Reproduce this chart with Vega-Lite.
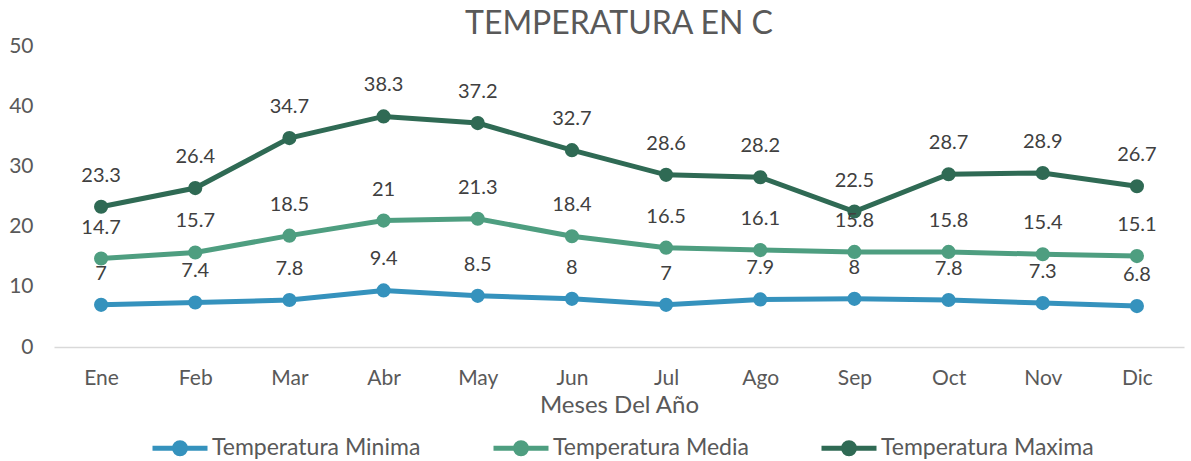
{
  "$schema": "https://vega.github.io/schema/vega-lite/v6.json",
  "autosize": {"type": "none"},
  "width": 1130,
  "height": 301,
  "padding": {"left": 54, "top": 46, "right": 7, "bottom": 114},
  "background": "white",
  "title": {"text": "TEMPERATURA EN C", "fontSize": 32, "font": "Lato", "fontWeight": "normal", "color": "#595959", "anchor": "middle", "offset": -6},
  "config": {
    "view": {"stroke": null},
    "font": "Lato",
    "axis": {"labelFont": "Lato", "titleFont": "Lato", "labelColor": "#595959", "titleColor": "#595959"}
  },
  "data": {"values": [
    {"mes": "Ene", "serie": "Temperatura Minima", "valor": 7},
    {"mes": "Feb", "serie": "Temperatura Minima", "valor": 7.4},
    {"mes": "Mar", "serie": "Temperatura Minima", "valor": 7.8},
    {"mes": "Abr", "serie": "Temperatura Minima", "valor": 9.4},
    {"mes": "May", "serie": "Temperatura Minima", "valor": 8.5},
    {"mes": "Jun", "serie": "Temperatura Minima", "valor": 8},
    {"mes": "Jul", "serie": "Temperatura Minima", "valor": 7},
    {"mes": "Ago", "serie": "Temperatura Minima", "valor": 7.9},
    {"mes": "Sep", "serie": "Temperatura Minima", "valor": 8},
    {"mes": "Oct", "serie": "Temperatura Minima", "valor": 7.8},
    {"mes": "Nov", "serie": "Temperatura Minima", "valor": 7.3},
    {"mes": "Dic", "serie": "Temperatura Minima", "valor": 6.8},
    {"mes": "Ene", "serie": "Temperatura Media", "valor": 14.7},
    {"mes": "Feb", "serie": "Temperatura Media", "valor": 15.7},
    {"mes": "Mar", "serie": "Temperatura Media", "valor": 18.5},
    {"mes": "Abr", "serie": "Temperatura Media", "valor": 21},
    {"mes": "May", "serie": "Temperatura Media", "valor": 21.3},
    {"mes": "Jun", "serie": "Temperatura Media", "valor": 18.4},
    {"mes": "Jul", "serie": "Temperatura Media", "valor": 16.5},
    {"mes": "Ago", "serie": "Temperatura Media", "valor": 16.1},
    {"mes": "Sep", "serie": "Temperatura Media", "valor": 15.8},
    {"mes": "Oct", "serie": "Temperatura Media", "valor": 15.8},
    {"mes": "Nov", "serie": "Temperatura Media", "valor": 15.4},
    {"mes": "Dic", "serie": "Temperatura Media", "valor": 15.1},
    {"mes": "Ene", "serie": "Temperatura Maxima", "valor": 23.3},
    {"mes": "Feb", "serie": "Temperatura Maxima", "valor": 26.4},
    {"mes": "Mar", "serie": "Temperatura Maxima", "valor": 34.7},
    {"mes": "Abr", "serie": "Temperatura Maxima", "valor": 38.3},
    {"mes": "May", "serie": "Temperatura Maxima", "valor": 37.2},
    {"mes": "Jun", "serie": "Temperatura Maxima", "valor": 32.7},
    {"mes": "Jul", "serie": "Temperatura Maxima", "valor": 28.6},
    {"mes": "Ago", "serie": "Temperatura Maxima", "valor": 28.2},
    {"mes": "Sep", "serie": "Temperatura Maxima", "valor": 22.5},
    {"mes": "Oct", "serie": "Temperatura Maxima", "valor": 28.7},
    {"mes": "Nov", "serie": "Temperatura Maxima", "valor": 28.9},
    {"mes": "Dic", "serie": "Temperatura Maxima", "valor": 26.7}
  ]},
  "encoding": {
    "x": {"field": "mes", "type": "ordinal", "sort": null,
      "scale": {"type": "point", "padding": 0.5},
      "axis": {"title": "Meses Del Año", "titleFontSize": 24, "titleFontWeight": "normal", "titlePadding": 5, "labelFontSize": 21, "labelAngle": 0, "labelPadding": 20, "ticks": false, "domainColor": "#d9d9d9", "domainWidth": 1.5, "grid": false}},
    "y": {"field": "valor", "type": "quantitative",
      "scale": {"domain": [0, 50]},
      "axis": {"title": null, "values": [0, 10, 20, 30, 40, 50], "labelFontSize": 21, "labelPadding": 21, "ticks": false, "domain": false, "grid": false}},
    "color": {"field": "serie", "type": "nominal", "sort": ["Temperatura Minima", "Temperatura Media", "Temperatura Maxima"],
      "scale": {"domain": ["Temperatura Minima", "Temperatura Media", "Temperatura Maxima"], "range": ["#3592BD", "#4E9E80", "#2F6A54"]},
      "legend": {"title": null, "orient": "none", "direction": "horizontal", "legendX": 96, "legendY": 372,
        "symbolType": "M -1 0 H 1 M 0.2 0 A 0.2 0.2 0 1 1 -0.2 0 A 0.2 0.2 0 1 1 0.2 0 Z",
        "symbolSize": 3025, "symbolStrokeWidth": 5, "labelFontSize": 23, "labelColor": "#595959", "labelFont": "Lato", "labelOffset": 2, "columnPadding": 62, "labelLimit": 400}}
  },
  "layer": [
    {"mark": {"type": "line", "strokeWidth": 5}},
    {"mark": {"type": "point", "filled": true, "size": 200, "opacity": 1}},
    {"mark": {"type": "text", "dy": -31, "fontSize": 20, "color": "#404040", "font": "Lato"},
      "encoding": {"text": {"field": "valor", "type": "quantitative"}, "color": {"value": "#404040"}}}
  ]
}
